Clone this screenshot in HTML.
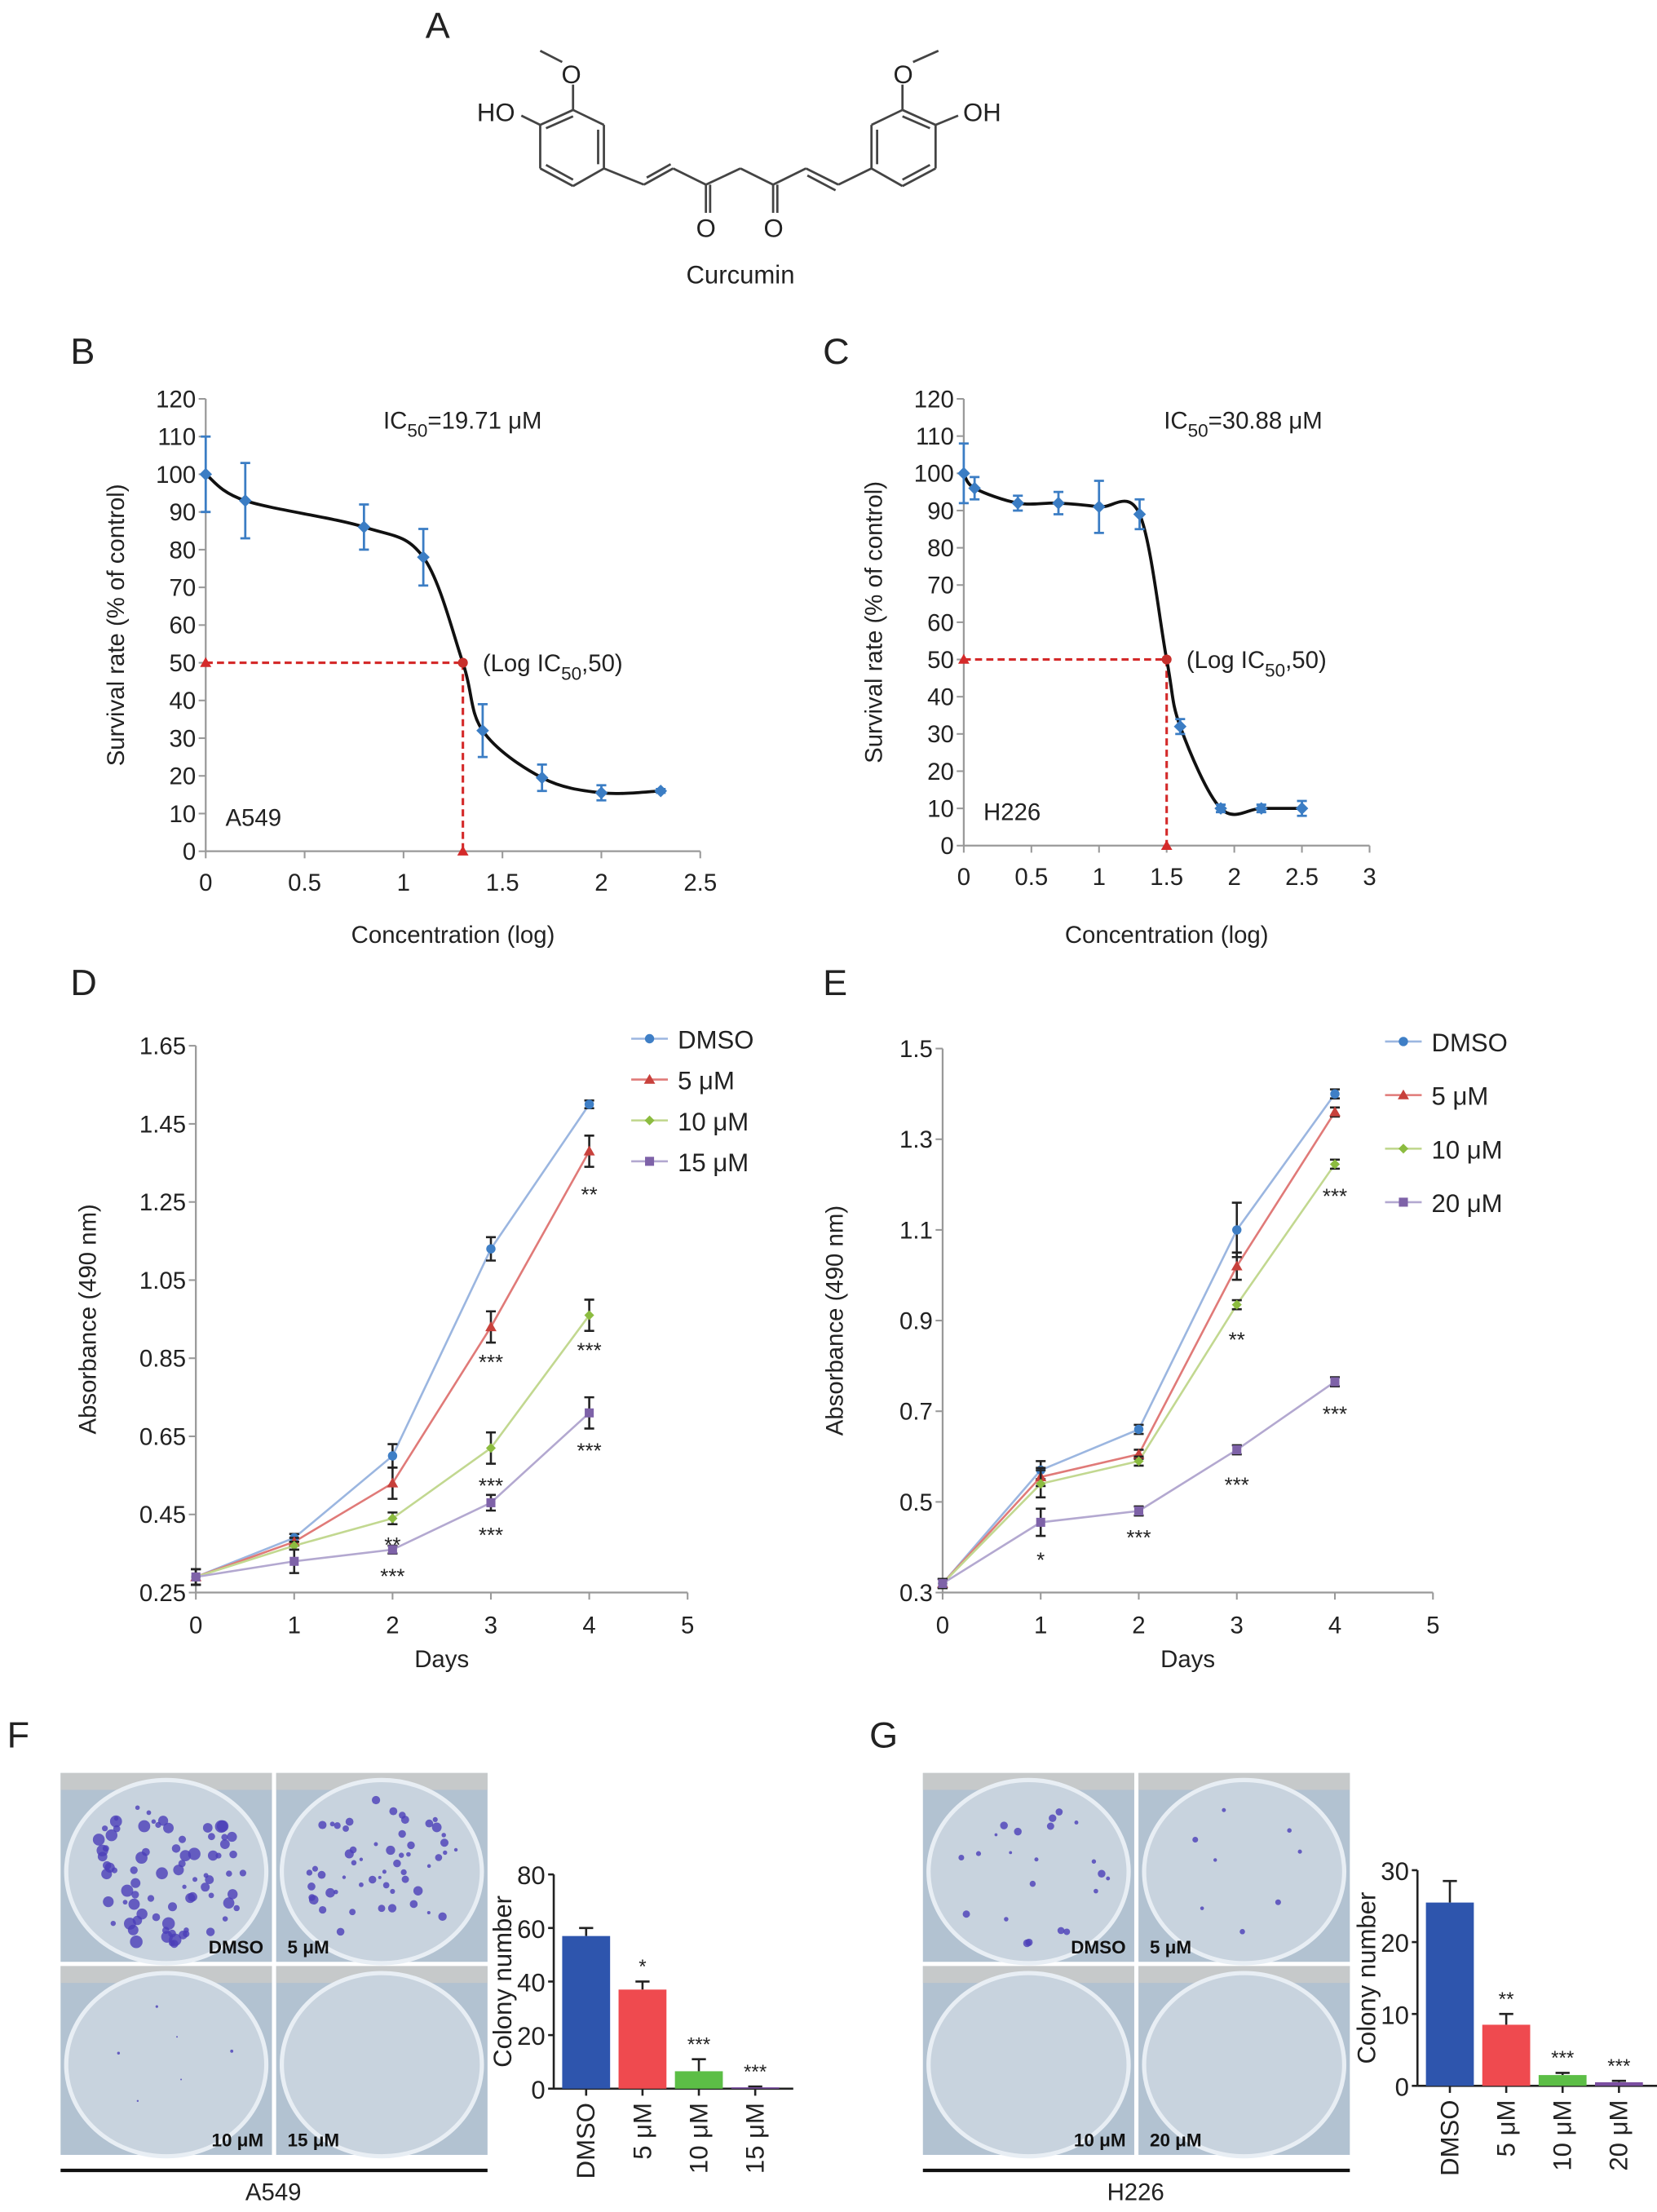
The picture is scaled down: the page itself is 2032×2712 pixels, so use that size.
<!DOCTYPE html>
<html><head><meta charset="utf-8"><style>
html,body{margin:0;padding:0;background:#fff;}
svg{display:block;font-family:"Liberation Sans",Arial,sans-serif;}
</style></head><body>
<svg id="fig" xmlns="http://www.w3.org/2000/svg" width="2032" height="2712" viewBox="0 0 1176 1569.5"></svg>
<script>
// ---- Panel B data ----
const bX=[0,0.2,0.8,1.1,1.4,1.7,2.0,2.3];
const bY=[100,93,86,78,32,19.5,15.5,16];
const bErr=[10,10,6,7.5,7,3.5,2,0.5];
const bIC=[1.3,50];
const bYTicks=[0,10,20,30,40,50,60,70,80,90,100,110,120];
const bXTicks=[0,0.5,1,1.5,2,2.5];
// ---- Panel C data ----
const cX=[0,0.08,0.4,0.7,1.0,1.3,1.6,1.9,2.2,2.5];
const cY=[100,96,92,92,91,89,32,10,10,10];
const cErr=[8,3,2,3,7,4,2,1,1,2];
const cIC=[1.5,50];
const cYTicks=[0,10,20,30,40,50,60,70,80,90,100,110,120];
const cXTicks=[0,0.5,1,1.5,2,2.5,3];
// ---- Panel D data ----
const days=[0,1,2,3,4];
const dNames=["DMSO","5 μM","10 μM","15 μM"];
const dDMSO=[0.29,0.39,0.60,1.13,1.50];
const d5=[0.29,0.38,0.53,0.93,1.38];
const d10=[0.29,0.37,0.44,0.62,0.96];
const d15=[0.29,0.33,0.36,0.48,0.71];
const dErrDMSO=[0.02,0.01,0.03,0.03,0.01];
const dErr5=[0.02,0.01,0.04,0.04,0.04];
const dErr10=[0.02,0.01,0.015,0.04,0.04];
const dErr15=[0.02,0.03,0.01,0.02,0.04];
const dYTicks=[0.25,0.45,0.65,0.85,1.05,1.25,1.45,1.65];
const dXTicks=[0,1,2,3,4,5];
// ---- Panel E data ----
const eNames=["DMSO","5 μM","10 μM","20 μM"];
const eDMSO=[0.32,0.57,0.66,1.10,1.40];
const e5=[0.32,0.555,0.605,1.02,1.36];
const e10=[0.32,0.54,0.59,0.935,1.245];
const e20=[0.32,0.455,0.48,0.615,0.765];
const eErrDMSO=[0.01,0.02,0.01,0.06,0.01];
const eErr5=[0.01,0.02,0.01,0.03,0.01];
const eErr10=[0.01,0.03,0.01,0.01,0.01];
const eErr20=[0.01,0.03,0.01,0.01,0.01];
const eYTicks=[0.3,0.5,0.7,0.9,1.1,1.3,1.5];
const eXTicks=[0,1,2,3,4,5];
// ---- Panel F/G bars ----
const fCats=["DMSO","5 μM","10 μM","15 μM"];
const fVals=[57,37,6.5,0.5];
const fErr=[3,3,4.5,0.3];
const fStars=["","*","***","***"];
const fTicks=[0,20,40,60,80];
const gCats=["DMSO","5 μM","10 μM","20 μM"];
const gVals=[25.5,8.5,1.5,0.5];
const gErr=[3,1.5,0.3,0.2];
const gStars=["","**","***","***"];
const gTicks=[0,10,20,30];

const NS="http://www.w3.org/2000/svg";
const svg=document.getElementById('fig');
function mk(tag,attrs,name,parent){
  const el=document.createElementNS(NS,tag);
  for(const k in attrs) el.setAttribute(k,attrs[k]);
  
  
  (parent||svg).appendChild(el);
  return el;
}
function txt(x,y,s,size,name,opts){
  opts=opts||{};
  const t=mk('text',Object.assign({x:x,y:y,'font-size':size,fill:opts.fill||'#222','text-anchor':opts.anchor||'start'},opts.extra||{}),name);
  if(opts.bold) t.setAttribute('font-weight','bold');
  t.textContent=s;return t;
}
function line(x1,y1,x2,y2,stroke,w,name,dash){
  const a={x1:x1,y1:y1,x2:x2,y2:y2,stroke:stroke,'stroke-width':w};
  if(dash)a['stroke-dasharray']=dash;
  return mk('line',a,name);
}
function crPath(pts){
  let d='M'+pts[0][0]+','+pts[0][1];
  for(let i=0;i<pts.length-1;i++){
    const p0=pts[Math.max(0,i-1)],p1=pts[i],p2=pts[i+1],p3=pts[Math.min(pts.length-1,i+2)];
    const c1=[p1[0]+(p2[0]-p0[0])/6,p1[1]+(p2[1]-p0[1])/6];
    const c2=[p2[0]-(p3[0]-p1[0])/6,p2[1]-(p3[1]-p1[1])/6];
    d+=' C'+c1+' '+c2+' '+p2;
  }
  return d;
}
function diamond(x,y,r,fill,name){return mk('polygon',{points:`${x},${y-r} ${x+r},${y} ${x},${y+r} ${x-r},${y}`,fill:fill},name);}
function marker(kind,x,y,fill,name){
  if(kind==0) return mk('circle',{cx:x,cy:y,r:3.3,fill:fill},name);
  if(kind==1) return mk('polygon',{points:`${x},${y-4} ${x+4},${y+3} ${x-4},${y+3}`,fill:fill},name);
  if(kind==2) return diamond(x,y,3.5,fill,name);
  return mk('rect',{x:x-3.2,y:y-3.2,width:6.4,height:6.4,fill:fill},name);
}
function errbar(x,y1,y2,stroke,w,cap,name){
  mk('path',{d:`M${x},${y1}V${y2}M${x-cap},${y1}H${x+cap}M${x-cap},${y2}H${x+cap}`,stroke:stroke,'stroke-width':w,fill:'none'},name);
}

// ---- Panel A: structure ----
txt(302,27,'A',26,'panel-label-a');
const bonds=[
 [406.7,78,428.6,88.6],[428.6,88.6,428.6,119.5],[428.6,119.5,406.7,132],[406.7,132,383.4,119.5],[383.4,119.5,383.4,88.6],[383.4,88.6,406.7,78],
 [387.5,91,406.7,82.5],[424.5,92,424.5,116.5],[387.5,117,406.7,127.5],
 [406.7,78,406.7,60],[399,44,383.4,36],[383.4,88.6,370,82],
 [428.6,119.5,457,131],[457,131,477.7,119.5],[459,126,476,116.5],[477.7,119.5,501,131],[501,131,501,151],[504,131,504,151],
 [501,131,525.5,119.5],[525.5,119.5,548.7,131],[548.7,131,548.7,151],[551.7,131,551.7,151],[548.7,131,572,119.5],[572,119.5,595,131],[573,124.5,593,135],[595,131,618.5,119.5],
 [618.5,119.5,618.5,88.6],[618.5,88.6,640.5,78],[640.5,78,664,88.6],[664,88.6,664,119.5],[664,119.5,640.5,132],[640.5,132,618.5,119.5],
 [622.5,92,622.5,116.5],[640.5,82.5,660,91],[640.5,127.5,660,117],
 [640.5,78,640.5,60],[648,44,666,36],[664,88.6,680,82]
];
bonds.forEach(b=>line(b[0],b[1],b[2],b[3],'#444',1.6,'structure-bond'));
txt(405.5,59,'O',18,'methoxy-o-left',{anchor:'middle'});
txt(352,86,'HO',18,'hydroxyl-left',{anchor:'middle'});
txt(641,59,'O',18,'methoxy-o-right',{anchor:'middle'});
txt(697,86,'OH',18,'hydroxyl-right',{anchor:'middle'});
txt(501,168,'O',18,'carbonyl-o-1',{anchor:'middle'});
txt(549,168,'O',18,'carbonyl-o-2',{anchor:'middle'});
txt(525.5,201,'Curcumin',18,'structure-name',{anchor:'middle'});

// ---- dose-response panel builder ----
function doseCurve(o){
  const xs=v=>o.x0+v*o.xs, ys=v=>o.y0-v*o.ys;
  txt(o.lx,258,o.label,26,'panel-label-'+o.label.toLowerCase());
  line(xs(0),ys(120),xs(0),ys(0),'#999',1.3,'y-axis-line');
  line(xs(0),ys(0),xs(o.xTicks[o.xTicks.length-1]),ys(0),'#999',1.3,'x-axis-line');
  o.yTicks.forEach(t=>{line(xs(0)-5,ys(t),xs(0),ys(t),'#999',1.2,'y-tick');txt(xs(0)-7,ys(t)+6,String(t),17,'y-tick-label',{anchor:'end'});});
  o.xTicks.forEach(t=>{line(xs(t),ys(0),xs(t),ys(0)+5,'#999',1.2,'x-tick');txt(xs(t),ys(0)+28,String(t),17,'x-tick-label',{anchor:'middle'});});
  const g=txt(0,0,'Survival rate (% of control)',17,'y-axis-title',{anchor:'middle'});
  g.setAttribute('transform',`translate(${xs(0)-58},${ys(60)}) rotate(-90)`);
  txt(xs(0)+(xs(o.xTicks[o.xTicks.length-1])-xs(0))/2,669,'Concentration (log)',17,'x-axis-title',{anchor:'middle'});
  const ic=txt(o.icx,304,'IC',17,'ic50-annotation');
  const s1=document.createElementNS(NS,'tspan');s1.setAttribute('dy','6');s1.setAttribute('font-size','13');s1.textContent='50';ic.appendChild(s1);
  const s2=document.createElementNS(NS,'tspan');s2.setAttribute('dy','-6');s2.textContent='='+o.icv+' μM';ic.appendChild(s2);
  const lg=txt(xs(o.ic[0])+14,ys(50)+6,'(Log  IC',17,'log-ic50-label');
  const s3=document.createElementNS(NS,'tspan');s3.setAttribute('dy','6');s3.setAttribute('font-size','13');s3.textContent='50';lg.appendChild(s3);
  const s4=document.createElementNS(NS,'tspan');s4.setAttribute('dy','-6');s4.textContent=',50)';lg.appendChild(s4);
  txt(xs(0)+14,ys(0)-18,o.cell,17,'cell-line-label');
  line(xs(0),ys(50),xs(o.ic[0]),ys(50),'#d42a2a',1.8,'ic50-horizontal-guide','5,3');
  line(xs(o.ic[0]),ys(50),xs(o.ic[0]),ys(0),'#d42a2a',1.8,'ic50-vertical-guide','5,3');
  mk('polygon',{points:`${xs(0)},${ys(50)-4} ${xs(0)+4},${ys(50)+3} ${xs(0)-4},${ys(50)+3}`,fill:'#d42a2a'},'ic50-marker-y');
  mk('polygon',{points:`${xs(o.ic[0])},${ys(0)-4} ${xs(o.ic[0])+4},${ys(0)+3} ${xs(o.ic[0])-4},${ys(0)+3}`,fill:'#d42a2a'},'ic50-marker-x');
  const pts=[];
  o.X.forEach((v,i)=>{pts.push([xs(v),ys(o.Y[i])]); if(i+1<o.X.length && o.X[i]<o.ic[0] && o.X[i+1]>o.ic[0]) pts.push([xs(o.ic[0]),ys(o.ic[1])]);});
  mk('path',{d:crPath(pts),fill:'none',stroke:'#111','stroke-width':2.2},'fitted-curve');
  o.X.forEach((v,i)=>{
    errbar(xs(v),ys(o.Y[i]+o.E[i]),ys(o.Y[i]-o.E[i]),'#3b7dc4',1.6,3.5,'error-bar');
    diamond(xs(v),ys(o.Y[i]),4.5,'#3b7dc4','data-point');
  });
  mk('circle',{cx:xs(o.ic[0]),cy:ys(o.ic[1]),r:3.5,fill:'#c9302c'},'ic50-point');
}
doseCurve({label:'B',lx:50,x0:146,xs:140.4,y0:604,ys:321/120,X:bX,Y:bY,E:bErr,ic:bIC,yTicks:bYTicks,xTicks:bXTicks,icx:272,icv:'19.71',cell:'A549'});
doseCurve({label:'C',lx:584,x0:684,xs:96,y0:600,ys:317/120,X:cX,Y:cY,E:cErr,ic:cIC,yTicks:cYTicks,xTicks:cXTicks,icx:826,icv:'30.88',cell:'H226'});

// ---- growth curves ----
function growth(o){
  const xs=v=>o.x0+v*o.xs, ys=v=>o.y0-(v-o.ymin)/(o.ymax-o.ymin)*o.h;
  txt(o.lx,706,o.label,26,'panel-label-'+o.label.toLowerCase());
  line(xs(0),ys(o.ymax),xs(0),ys(o.ymin),'#999',1.3,'y-axis-line');
  line(xs(0),ys(o.ymin),xs(5),ys(o.ymin),'#999',1.3,'x-axis-line');
  o.yTicks.forEach(t=>{line(xs(0)-5,ys(t),xs(0),ys(t),'#999',1.2,'y-tick');txt(xs(0)-7,ys(t)+6,String(t),17,'y-tick-label',{anchor:'end'});});
  o.xTicks.forEach(t=>{line(xs(t),ys(o.ymin),xs(t),ys(o.ymin)+5,'#999',1.2,'x-tick');txt(xs(t),ys(o.ymin)+29,String(t),17,'x-tick-label',{anchor:'middle'});});
  const g=txt(0,0,'Absorbance (490 nm)',17,'y-axis-title',{anchor:'middle'});
  g.setAttribute('transform',`translate(${xs(0)-71},${(ys(o.ymax)+ys(o.ymin))/2}) rotate(-90)`);
  txt(xs(2.5),1183,'Days',17,'x-axis-title',{anchor:'middle'});
  const lc=['#9bb6e0','#e07a78','#c2d890','#b3a8d0'], mc=['#3f7fc6','#c8413c','#8cbc40','#7e62a8'];
  o.S.forEach((s,k)=>{
    mk('polyline',{points:s.map((v,i)=>xs(days[i])+','+ys(v)).join(' '),fill:'none',stroke:lc[k],'stroke-width':1.5},'series-line-'+k);
  });
  o.S.forEach((s,k)=>{
    s.forEach((v,i)=>{
      errbar(xs(days[i]),ys(v+o.E[k][i]),ys(v-o.E[k][i]),'#222',1.5,3.5,'error-bar');
      marker(k,xs(days[i]),ys(v),mc[k],'data-point');
    });
  });
  o.stars.forEach(s=>txt(xs(s[0]),ys(s[1])+s[2],s[3],15,'significance-stars',{anchor:'middle'}));
  o.names.forEach((n,k)=>{
    const y=o.legY[k];
    line(o.legX,y,o.legX+26,y,lc[k],1.5,'legend-line');
    marker(k,o.legX+13,y,mc[k],'legend-marker');
    txt(o.legX+33,y+7,n,18,'legend-entry');
  });
}
growth({label:'D',lx:50,x0:139,xs:69.8,y0:1130,ymin:0.25,ymax:1.65,h:388,S:[dDMSO,d5,d10,d15],E:[dErrDMSO,dErr5,dErr10,dErr15],
 yTicks:dYTicks,xTicks:dXTicks,names:dNames,legX:448,legY:[737,766,795,824],
 stars:[[2,d10[2],24,'**'],[2,d15[2],24,'***'],[3,d5[3],30,'***'],[3,d10[3],32,'***'],[3,d15[3],28,'***'],[4,d5[4],36,'**'],[4,d10[4],30,'***'],[4,d15[4],32,'***']]});
growth({label:'E',lx:584,x0:669,xs:69.6,y0:1130,ymin:0.3,ymax:1.5,h:386,S:[eDMSO,e5,e10,e20],E:[eErrDMSO,eErr5,eErr10,eErr20],
 yTicks:eYTicks,xTicks:eXTicks,names:eNames,legX:983,legY:[739,777,815,853],
 stars:[[1,e20[1],32,'*'],[2,e20[2],24,'***'],[3,e10[3],30,'**'],[3,e20[3],30,'***'],[4,e10[4],28,'***'],[4,e20[4],28,'***']]});

// ---- colony photos ----
let seed=7;function rnd(){seed=(seed*16807)%2147483647;return seed/2147483647;}
function photos(x0,label,names,counts,dotR,cell){
  const cw=150,ch=134;
  mk('rect',{x:x0,y:1258,width:cw*2+3,height:ch*2+3,fill:'#fff'},'photo-panel');
  for(let r=0;r<2;r++)for(let c=0;c<2;c++){
    const x=x0+c*(cw+3),y=1258+r*(ch+3),i=r*2+c;
    mk('rect',{x:x,y:y,width:cw,height:ch,fill:'#b2c2d1'},'well-photo');
    mk('rect',{x:x,y:y,width:cw,height:12,fill:'#cfccc8',opacity:0.7},'well-edge');
    mk('ellipse',{cx:x+cw/2,cy:y+ch/2+3,rx:cw/2-4,ry:ch/2-2,fill:'#c8d3de',stroke:'#e8eef4','stroke-width':3},'culture-dish');
    for(let k=0;k<counts[i];k++){
      const a=rnd()*6.283,rr=Math.sqrt(rnd())*0.9;
      mk('circle',{cx:x+cw/2+Math.cos(a)*rr*(cw/2-12),cy:y+ch/2+4+Math.sin(a)*rr*(ch/2-8),r:dotR[i]*(0.5+rnd()),fill:'#4b3fb8',opacity:0.8},'colony');
    }
    txt(c==0?x+cw-6:x+8,y+ch-6,names[i],13,'well-label',{anchor:c==0?'end':'start',bold:true,fill:'#111'});
  }
  line(x0,1540,x0+cw*2+3,1540,'#111',2.5,'group-bracket');
  txt(x0+cw+1,1561,cell,17,'cell-line-label',{anchor:'middle'});
  txt(x0-38,1240,label,26,'panel-label-'+label.toLowerCase());
}
photos(43,'F',['DMSO','5 μM','10 μM','15 μM'],[80,55,6,0],[3,2.3,1,0],'A549');
photos(655,'G',['DMSO','5 μM','10 μM','20 μM'],[22,8,0,0],[2,1.8,0,0],'H226');

// ---- bar charts ----
function bars(o){
  const ys=v=>o.y0-v/o.max*o.h;
  const cols=['#2e55ad','#ef4a4f','#5cbe46','#7b4ea1'];
  line(o.ax,ys(o.max),o.ax,o.y0,'#222',1.5,'y-axis-line');
  line(o.ax,o.y0,o.ax+170,o.y0,'#222',1.5,'x-axis-line');
  o.ticks.forEach(t=>{line(o.ax-4,ys(t),o.ax,ys(t),'#222',1.5,'y-tick');txt(o.ax-6,ys(t)+7,String(t),18,'y-tick-label',{anchor:'end'});});
  const g=txt(0,0,'Colony number',18,'y-axis-title',{anchor:'middle'});
  g.setAttribute('transform',`translate(${o.ax-30},${ys(o.max/2)}) rotate(-90)`);
  o.vals.forEach((v,i)=>{
    const cx=o.ax+23+i*40;
    errbar(cx,ys(v+o.err[i]),ys(v),'#222',1.5,0,'error-bar');
    line(cx-5,ys(v+o.err[i]),cx+5,ys(v+o.err[i]),'#222',1.5,'error-cap');
    mk('rect',{x:cx-17,y:ys(v),width:34,height:o.y0-ys(v),fill:cols[i]},'bar-'+i);
    line(cx,o.y0,cx,o.y0+5,'#222',1.5,'x-tick');
    if(o.stars[i])txt(cx,ys(v+o.err[i])-6,o.stars[i],14,'significance-stars',{anchor:'middle'});
    const l=txt(0,0,o.cats[i],18,'x-tick-label',{anchor:'end'});
    l.setAttribute('transform',`translate(${cx+6},${o.y0+10}) rotate(-90)`);
  });
}
bars({ax:393,y0:1482,h:152,max:80,vals:fVals,err:fErr,stars:fStars,cats:fCats,ticks:fTicks});
bars({ax:1006,y0:1480,h:153,max:30,vals:gVals,err:gErr,stars:gStars,cats:gCats,ticks:gTicks});
</script>
</body></html>
